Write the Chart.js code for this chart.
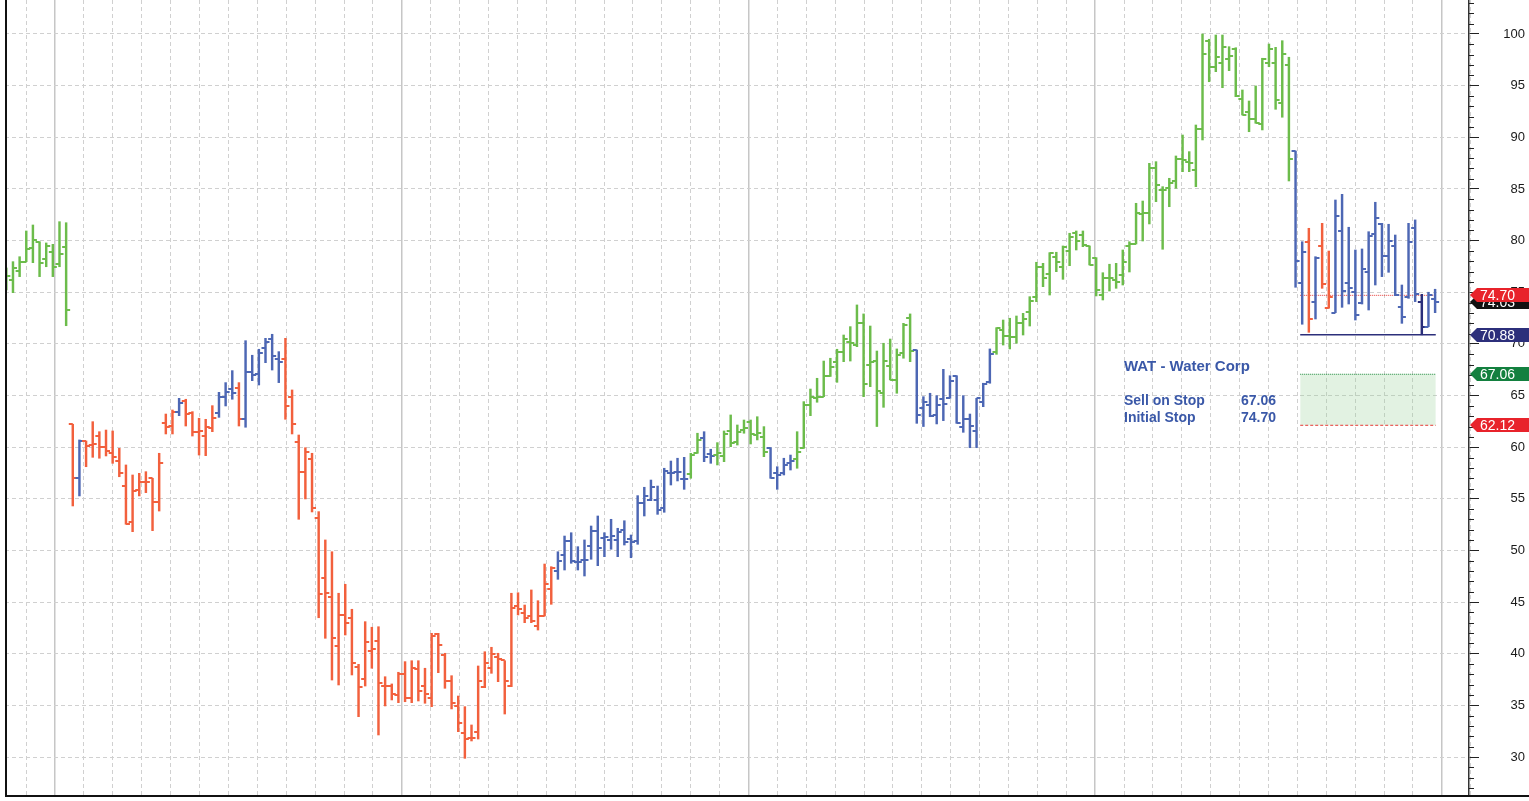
<!DOCTYPE html>
<html>
<head>
<meta charset="utf-8">
<title>WAT - Water Corp</title>
<script src="https://cdn.jsdelivr.net/npm/chart.js@4.4.1/dist/chart.umd.min.js"></script>
<style>
  html, body { margin: 0; padding: 0; background: #fff; }
  #wrap { width: 1529px; height: 801px; }
</style>
</head>
<body>
<div id="wrap"><canvas id="priceChart" width="1529" height="801"></canvas></div>
<script>
// weekly OHLC, oldest first
var opens = [
  75.70, 76.22, 77.09, 77.96, 79.31, 79.89, 78.19, 78.93, 77.74, 79.41,
  62.22, 57.05, 60.60, 60.21, 61.11, 59.99, 59.47, 58.69, 56.24, 52.73,
  55.86, 56.66, 56.99, 54.72, 62.37, 62.05, 63.44, 64.47, 63.34, 61.50,
  61.11, 61.89, 63.34, 64.89, 65.63, 65.76, 62.76, 67.28, 67.09, 69.57,
  70.45, 68.54, 68.57, 64.89, 60.47, 57.57, 58.83, 53.18, 47.37, 45.47,
  40.76, 43.76, 43.49, 38.75, 37.53, 40.30, 41.27, 36.88, 36.88, 36.01,
  38.02, 35.69, 38.53, 36.91, 35.69, 41.92, 39.88, 37.40, 34.95, 32.36,
  31.82, 32.46, 36.82, 38.66, 39.66, 39.40, 36.88, 44.63, 43.98, 43.66,
  42.69, 43.66, 46.24, 48.02, 49.56, 50.92, 48.86, 49.08, 50.44, 51.89,
  51.24, 51.02, 51.02, 51.98, 51.08, 50.95, 54.63, 54.89, 54.89, 54.08,
  57.53, 57.63, 56.92, 57.41, 59.47, 60.92, 59.31, 59.24, 59.15, 61.57,
  60.53, 61.66, 62.47, 61.20, 60.96, 59.89, 57.53, 57.47, 58.50, 58.83,
  59.89, 64.09, 64.73, 64.89, 66.89, 68.22, 69.25, 70.21, 69.89, 71.99,
  67.96, 68.34, 65.22, 67.86, 66.51, 69.09, 72.48, 69.41, 63.82, 64.09,
  63.12, 64.64, 64.73, 66.89, 62.00, 62.70, 61.57, 64.41, 66.28, 69.25,
  71.35, 70.80, 70.70, 71.99, 73.12, 74.57, 77.47, 76.74, 78.38, 77.41,
  79.02, 80.71, 80.54, 79.48, 78.30, 74.73, 76.35, 76.19, 76.67, 79.48,
  79.67, 82.55, 82.64, 87.06, 84.90, 85.06, 85.77, 87.87, 87.64, 86.83,
  90.77, 99.35, 96.83, 97.16, 97.55, 98.52, 93.71, 92.48, 91.74, 91.29,
  97.16, 97.22, 93.29, 97.00, 88.67, 75.87, 79.84, 74.09, 79.51, 73.50,
  73.02, 80.96, 75.87, 75.00, 73.93, 76.99, 80.61, 81.58, 78.51, 79.51,
  73.60, 74.51, 81.19, 74.09, 71.67, 74.31
];
var highs = [
  77.35, 77.96, 78.44, 80.93, 81.51, 79.89, 79.77, 79.64, 81.83, 81.73,
  62.22, 60.70, 60.60, 62.47, 61.50, 61.66, 61.57, 59.89, 58.28, 57.31,
  57.47, 57.63, 56.99, 59.41, 63.21, 63.60, 64.73, 64.64, 63.44, 62.80,
  62.70, 64.02, 65.31, 66.25, 67.41, 66.25, 70.31, 68.90, 69.48, 70.54,
  70.93, 69.25, 70.54, 65.54, 61.18, 59.95, 59.41, 53.76, 51.02, 49.88,
  45.86, 46.73, 44.31, 38.98, 43.11, 42.57, 42.62, 37.78, 37.08, 38.21,
  39.24, 39.33, 39.33, 38.60, 41.98, 41.98, 40.05, 37.88, 35.91, 34.88,
  33.11, 38.82, 40.20, 40.63, 40.05, 39.33, 45.86, 45.91, 44.72, 46.18,
  45.14, 48.69, 48.43, 49.88, 51.40, 51.72, 50.37, 51.02, 52.37, 53.34,
  51.72, 53.02, 52.15, 52.88, 51.50, 55.31, 56.12, 56.82, 56.24, 57.96,
  58.66, 58.93, 59.02, 59.41, 61.35, 61.50, 59.80, 60.44, 61.57, 63.12,
  62.15, 62.63, 62.63, 62.95, 61.99, 59.95, 58.11, 58.93, 59.24, 61.50,
  64.41, 65.63, 66.67, 68.34, 68.61, 69.48, 70.86, 71.67, 73.77, 72.90,
  71.73, 69.31, 70.06, 70.47, 69.51, 71.99, 72.90, 69.41, 64.89, 65.22,
  64.99, 67.54, 66.92, 66.92, 64.99, 63.21, 64.73, 66.19, 69.51, 71.57,
  72.31, 72.48, 72.70, 72.96, 74.57, 77.90, 77.80, 78.83, 78.87, 79.48,
  80.71, 80.93, 80.93, 79.48, 78.35, 76.89, 77.71, 77.80, 79.09, 79.89,
  83.61, 83.83, 87.48, 87.64, 85.22, 86.03, 88.19, 90.22, 88.61, 91.19,
  100.00, 99.49, 99.90, 99.90, 98.77, 98.67, 94.58, 93.51, 94.97, 97.65,
  99.03, 98.71, 99.35, 97.75, 88.67, 79.89, 81.19, 78.44, 81.67, 78.99,
  83.93, 84.48, 81.29, 79.09, 79.19, 80.86, 83.71, 81.67, 81.58, 80.54,
  75.70, 81.67, 82.00, 74.80, 75.00, 75.29
];
var lows = [
  75.22, 74.96, 76.51, 77.96, 77.86, 76.51, 77.47, 76.51, 77.47, 71.76,
  54.31, 55.28, 58.11, 59.02, 58.93, 59.15, 58.44, 57.14, 52.54, 51.82,
  55.28, 55.60, 51.92, 53.82, 61.28, 61.28, 63.05, 62.05, 61.08, 59.24,
  59.18, 61.50, 62.89, 63.99, 64.64, 62.05, 61.93, 66.44, 66.02, 68.18,
  67.47, 66.25, 62.70, 61.28, 53.02, 54.99, 53.73, 43.49, 41.50, 37.46,
  36.98, 41.82, 37.95, 33.91, 36.88, 38.60, 32.14, 34.95, 35.53, 35.27,
  35.36, 35.27, 35.43, 35.21, 34.88, 38.17, 36.66, 34.66, 32.46, 29.88,
  31.56, 31.75, 36.72, 38.11, 37.30, 34.17, 36.82, 43.76, 43.01, 43.01,
  42.30, 43.66, 44.79, 47.21, 48.11, 48.76, 48.11, 47.53, 49.15, 48.53,
  49.40, 50.12, 49.40, 50.53, 49.30, 50.60, 53.34, 54.82, 53.50, 53.70,
  56.34, 56.73, 55.92, 56.99, 59.41, 58.60, 58.44, 58.28, 58.60, 60.05,
  60.21, 61.35, 60.31, 60.70, 59.08, 56.99, 55.92, 57.31, 57.79, 57.96,
  59.89, 63.05, 64.35, 64.89, 66.85, 66.28, 68.28, 68.34, 69.73, 64.89,
  65.86, 62.00, 63.86, 66.51, 65.22, 68.61, 68.28, 62.31, 62.00, 62.95,
  62.25, 62.57, 64.73, 62.31, 61.44, 59.95, 59.95, 63.92, 66.19, 68.99,
  69.89, 69.51, 70.06, 70.86, 71.73, 74.09, 75.54, 74.73, 76.99, 76.25,
  77.57, 79.09, 79.41, 77.64, 74.64, 74.25, 75.12, 75.38, 75.70, 76.96,
  79.67, 79.96, 81.61, 83.77, 79.16, 83.28, 85.06, 86.67, 86.67, 85.22,
  89.74, 95.38, 96.35, 94.80, 96.45, 93.93, 92.16, 90.54, 91.36, 90.71,
  96.83, 92.71, 91.94, 85.77, 75.48, 71.90, 71.12, 72.41, 75.38, 73.45,
  73.02, 73.54, 73.86, 72.31, 73.86, 73.28, 75.70, 76.51, 76.93, 74.67,
  71.99, 74.41, 74.09, 70.88, 71.67, 73.02
];
var closes = [
  76.54, 77.32, 77.96, 79.19, 80.06, 77.86, 79.48, 77.47, 78.67, 73.28,
  57.05, 60.60, 60.12, 60.31, 59.99, 59.63, 59.02, 57.53, 52.54, 55.76,
  56.66, 56.66, 54.72, 58.44, 61.99, 63.44, 64.31, 63.19, 61.50, 61.60,
  61.93, 62.86, 64.89, 65.34, 65.22, 62.70, 67.28, 66.99, 69.15, 70.16,
  68.83, 68.22, 63.99, 62.22, 57.57, 59.56, 54.08, 45.76, 45.86, 41.50,
  43.76, 42.95, 39.08, 36.76, 41.17, 40.44, 37.20, 36.88, 36.08, 38.04,
  35.69, 38.66, 36.43, 36.11, 41.75, 40.85, 37.40, 35.27, 33.27, 31.72,
  31.88, 37.37, 39.08, 39.95, 39.47, 37.40, 44.40, 44.31, 43.49, 43.18,
  43.66, 46.73, 48.34, 49.01, 50.92, 48.98, 48.86, 49.08, 51.89, 50.27,
  51.34, 51.40, 51.76, 50.85, 50.85, 54.63, 55.28, 56.12, 53.92, 57.70,
  57.53, 57.63, 56.92, 59.24, 60.70, 59.02, 59.15, 59.41, 61.25, 60.38,
  61.50, 61.89, 61.28, 61.40, 59.51, 56.99, 57.31, 58.28, 58.69, 59.56,
  64.09, 64.89, 64.89, 66.89, 67.79, 69.19, 70.45, 70.06, 71.99, 66.09,
  68.28, 65.47, 68.37, 66.51, 68.93, 71.83, 69.31, 63.12, 64.41, 63.02,
  64.09, 64.15, 66.41, 62.31, 62.70, 62.08, 64.73, 66.09, 68.99, 71.51,
  70.77, 70.70, 71.99, 72.41, 74.15, 77.47, 76.41, 78.77, 77.96, 79.35,
  80.38, 79.99, 79.57, 77.64, 75.22, 76.41, 76.35, 76.02, 77.93, 79.67,
  82.64, 82.64, 87.06, 85.38, 84.90, 85.55, 87.87, 87.80, 87.54, 90.77,
  98.06, 96.83, 97.75, 98.71, 97.87, 94.00, 92.16, 91.74, 91.41, 97.58,
  98.55, 93.61, 98.06, 87.87, 78.03, 78.87, 72.38, 78.29, 75.77, 74.57,
  82.38, 75.12, 75.44, 72.80, 77.22, 80.48, 82.16, 78.51, 79.96, 74.73,
  72.57, 79.89, 74.80, 71.67, 74.73, 74.03
];
// trend state runs: G up, R down, B neutral, N lowest-low week
var trendRuns = [
  ['G', 10], ['R', 1], ['B', 1], ['R', 14], ['B', 1], ['R', 5], ['B', 3], ['R', 1],
  ['B', 6], ['R', 41], ['B', 20], ['G', 2], ['B', 2], ['G', 8], ['B', 4], ['G', 18],
  ['B', 12], ['G', 45], ['B', 2], ['R', 1], ['B', 1], ['R', 2], ['B', 13], ['N', 1], ['B', 2]
];

var lastClose = 74.03;
var initialStop = 74.70;
var swingLow = 70.88;
var sellStop = 67.06;
var targetLow = 62.12;
var levelWeeks = [194.7, 215.1];

(function () {
  var barColors = { G: '#6cbc4b', R: '#f2603d', B: '#4d67b4', N: '#2a2e7a' };
  var gridColor = '#d0d0d0';
  var fontFamily = '"Liberation Sans", Arial, sans-serif';

  var trend = [];
  trendRuns.forEach(function (r) {
    for (var k = 0; k < r[1]; k++) trend.push(r[0]);
  });
  var weeks = opens.map(function (v, i) { return i; });
  var rangeData = weeks.map(function (w, i) { return { x: w, y: [lows[i], highs[i]] }; });

  // month gridlines, a solid one at each new year
  var firstYearWeek = 7.34, weeksPerMonth = 52.17 / 12;
  var gridWeeks = [];
  for (var k = -1; k <= 49; k++) gridWeeks.push(firstYearWeek + k * weeksPerMonth);
  var isYearLine = function (idx) { return (idx - 1) % 12 === 0; };

  var level = function (v) {
    return [{ x: levelWeeks[0], y: v }, { x: levelWeeks[1], y: v }];
  };

  var tags = [
    { value: lastClose, color: '#111111' },
    { value: initialStop, color: '#e8232b' },
    { value: swingLow, color: '#2c2f7b' },
    { value: sellStop, color: '#13803f' },
    { value: targetLow, color: '#e8232b' }
  ];

  var ohlcTicks = {
    id: 'ohlcTicks',
    afterDatasetsDraw: function (chart) {
      var x = chart.scales.x, y = chart.scales.y, ctx = chart.ctx, a = chart.chartArea;
      ctx.save();
      ctx.beginPath();
      ctx.rect(a.left, a.top, a.right - a.left, a.bottom - a.top);
      ctx.clip();
      ctx.lineWidth = 1.8;
      weeks.forEach(function (w, i) {
        var px = x.getPixelForValue(w);
        var yo = Math.round(y.getPixelForValue(opens[i]));
        var yc = Math.round(y.getPixelForValue(closes[i]));
        ctx.strokeStyle = barColors[trend[i]];
        ctx.beginPath();
        ctx.moveTo(px - 4, yo); ctx.lineTo(px, yo);
        ctx.moveTo(px, yc); ctx.lineTo(px + 4, yc);
        ctx.stroke();
      });
      ctx.restore();
    }
  };

  var frame = {
    id: 'frame',
    afterDraw: function (chart) {
      var ctx = chart.ctx, a = chart.chartArea, y = chart.scales.y;
      ctx.save();
      // left and bottom border
      ctx.strokeStyle = '#111';
      ctx.lineWidth = 2;
      ctx.beginPath();
      ctx.moveTo(a.left + 1, 0); ctx.lineTo(a.left + 1, a.bottom + 1);
      ctx.lineTo(chart.width, a.bottom + 1);
      ctx.stroke();

      // minor ticks on the price axis
      ctx.lineWidth = 1;
      ctx.strokeStyle = '#222';
      for (var v = Math.ceil(y.min); v <= y.max; v++) {
        if (v % 5 === 0) continue;
        var py = Math.round(y.getPixelForValue(v)) + 0.5;
        ctx.beginPath(); ctx.moveTo(y.left, py); ctx.lineTo(y.left + 5, py); ctx.stroke();
      }

      // price tags
      ctx.font = '14px ' + fontFamily;
      ctx.textBaseline = 'middle';
      tags.forEach(function (t) {
        var ty = Math.round(y.getPixelForValue(t.value));
        var x0 = y.left + 1;
        ctx.fillStyle = t.color;
        ctx.beginPath();
        ctx.moveTo(x0, ty);
        ctx.lineTo(x0 + 7, ty - 7);
        ctx.lineTo(chart.width, ty - 7);
        ctx.lineTo(chart.width, ty + 7);
        ctx.lineTo(x0 + 7, ty + 7);
        ctx.closePath();
        ctx.fill();
        ctx.fillStyle = '#fff';
        ctx.fillText(t.value.toFixed(2), x0 + 10, ty + 1);
      });

      // trade note
      ctx.fillStyle = '#3a58a8';
      ctx.textBaseline = 'alphabetic';
      ctx.font = 'bold 15px ' + fontFamily;
      ctx.fillText('WAT - Water Corp', 1124, 371);
      ctx.font = 'bold 14px ' + fontFamily;
      ctx.fillText('Sell on Stop', 1124, 405);
      ctx.fillText(sellStop.toFixed(2), 1241, 405);
      ctx.fillText('Initial Stop', 1124, 422);
      ctx.fillText(initialStop.toFixed(2), 1241, 422);
      ctx.restore();
    }
  };

  var config = {
    data: {
      datasets: [{
        type: 'bar',
        data: rangeData,
        backgroundColor: trend.map(function (t) { return barColors[t]; }),
        borderWidth: 0,
        barThickness: 1.8,
        grouped: false
      }, {
        type: 'line',
        data: level(sellStop),
        borderColor: '#1b8a3a',
        borderWidth: 1,
        borderDash: [1, 1],
        pointRadius: 0
      }, {
        type: 'line',
        data: level(targetLow),
        borderColor: '#e53a35',
        borderWidth: 1,
        borderDash: [3, 2],
        pointRadius: 0,
        fill: '-1',
        backgroundColor: 'rgba(150, 210, 150, 0.28)'
      }, {
        type: 'line',
        data: level(initialStop),
        borderColor: '#e53a35',
        borderWidth: 1,
        borderDash: [1, 1],
        pointRadius: 0
      }, {
        type: 'line',
        data: level(swingLow),
        borderColor: '#2c2f7b',
        borderWidth: 1.5,
        pointRadius: 0
      }]
    },
    options: {
      responsive: false,
      animation: false,
      events: [],
      layout: { padding: { left: 5, right: 4, top: 0, bottom: 4 } },
      plugins: { legend: { display: false }, tooltip: { enabled: false } },
      scales: {
        x: {
          type: 'linear',
          min: -0.2,
          max: 220.1,
          offset: false,
          afterBuildTicks: function (s) {
            s.ticks = gridWeeks.map(function (v) { return { value: v }; });
          },
          afterFit: function (s) {
            s.height = 2;
            s.paddingLeft = 0; s.paddingRight = 0;
          },
          ticks: { display: false },
          grid: {
            offset: false,
            drawTicks: false,
            color: function (c) { return isYearLine(c.index) ? '#c6c6c6' : gridColor; },
            lineWidth: function (c) { return isYearLine(c.index) ? 1.5 : 1; }
          },
          border: {
            display: false,
            dash: function (c) { return c.tick && isYearLine(c.index) ? [] : [4, 3]; }
          }
        },
        y: {
          position: 'right',
          min: 26.33,
          max: 103.29,
          afterFit: function (s) {
            s.width = 56;
            s.paddingTop = 0; s.paddingBottom = 0;
          },
          ticks: {
            stepSize: 1,
            autoSkip: false,
            includeBounds: false,
            crossAlign: 'far',
            color: '#1a1a1a',
            font: { family: fontFamily, size: 13 },
            callback: function (v) { return v % 5 === 0 ? String(v) : ''; }
          },
          grid: {
            tickLength: 10,
            color: function (c) { return c.tick && c.tick.value % 5 === 0 ? gridColor : 'rgba(0,0,0,0)'; },
            tickColor: function (c) { return c.tick && c.tick.value % 5 === 0 ? '#222' : 'rgba(0,0,0,0)'; }
          },
          border: { color: '#333', width: 1.5, dash: [4, 3] }
        }
      }
    },
    plugins: [ohlcTicks, frame]
  };

  window.priceChart = new Chart(document.getElementById('priceChart'), config);
})();
</script>
</body>
</html>
